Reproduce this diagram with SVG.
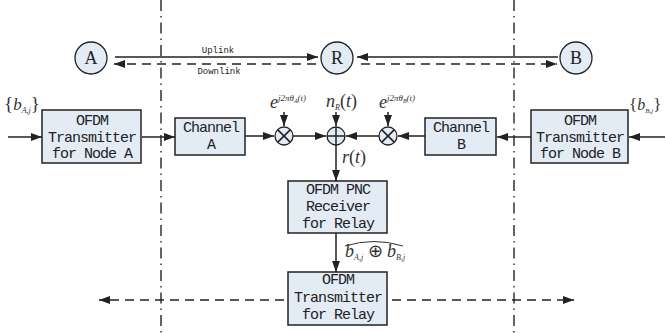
<svg xmlns="http://www.w3.org/2000/svg" width="665" height="333" viewBox="0 0 665 333">
<style>
.box{fill:#e3ebf5;stroke:#222;stroke-width:1.5}
.node{fill:#e3ebf5;stroke:#222;stroke-width:1.3}
.bt{font-family:"Liberation Mono",monospace;font-size:15px;letter-spacing:-1px;text-anchor:middle;fill:#222}
.sm{font-family:"Liberation Mono",monospace;font-size:9px;text-anchor:middle;fill:#222}
.nl{font-family:"Liberation Serif",serif;font-size:18px;text-anchor:middle;fill:#222}
.m{font-family:"Liberation Serif",serif;font-style:italic;fill:#333}
.ln{stroke:#222;stroke-width:1.5;fill:none}
.dl{stroke:#222;stroke-width:1.5;fill:none;stroke-dasharray:9,6}
.dd{stroke:#333;stroke-width:1.5;fill:none;stroke-dasharray:11,5,1.5,5}
</style>
<defs>
<marker id="ah" markerUnits="userSpaceOnUse" markerWidth="12" markerHeight="8" refX="11" refY="4" orient="auto">
<path d="M0,0 L11,4 L0,8 z" fill="#222"/>
</marker>
</defs>

<g id="boundaries">
<line class="dd" x1="161" y1="0" x2="161" y2="333"/>
<line class="dd" x1="514" y1="0" x2="514" y2="333"/>
</g>

<g id="connectors">
<line class="ln" x1="115" y1="57" x2="318" y2="57" marker-end="url(#ah)"/>
<line class="dl" x1="316" y1="64" x2="114" y2="64" marker-end="url(#ah)"/>
<line class="ln" x1="558" y1="57" x2="357" y2="57" marker-end="url(#ah)"/>
<line class="dl" x1="361" y1="64" x2="557" y2="64" marker-end="url(#ah)"/>
<line class="ln" x1="8" y1="137" x2="42" y2="137" marker-end="url(#ah)"/>
<line class="ln" x1="142" y1="137" x2="175" y2="137" marker-end="url(#ah)"/>
<line class="ln" x1="245" y1="136" x2="274" y2="136" marker-end="url(#ah)"/>
<line class="ln" x1="293" y1="136" x2="326" y2="136" marker-end="url(#ah)"/>
<line class="ln" x1="379" y1="136" x2="346" y2="136" marker-end="url(#ah)"/>
<line class="ln" x1="425" y1="136" x2="398" y2="136" marker-end="url(#ah)"/>
<line class="ln" x1="531" y1="137" x2="497" y2="137" marker-end="url(#ah)"/>
<line class="ln" x1="665" y1="137" x2="629" y2="137" marker-end="url(#ah)"/>
<line class="ln" x1="284" y1="112" x2="284" y2="126" marker-end="url(#ah)"/>
<line class="ln" x1="336" y1="112" x2="336" y2="126" marker-end="url(#ah)"/>
<line class="ln" x1="388" y1="112" x2="388" y2="126" marker-end="url(#ah)"/>
<line class="ln" x1="336" y1="145" x2="336" y2="181" marker-end="url(#ah)"/>
<line class="ln" x1="336" y1="233" x2="336" y2="272" marker-end="url(#ah)"/>
<line class="dl" x1="284" y1="300" x2="99" y2="300" marker-end="url(#ah)"/>
<line class="dl" x1="392" y1="300" x2="574" y2="300" marker-end="url(#ah)"/>
</g>

<text class="sm" x="218" y="53">Uplink</text>
<text class="sm" x="219" y="74">Downlink</text>

<g id="nodeA"><circle class="node" cx="91" cy="58" r="16"/><text class="nl" x="91" y="64">A</text></g>
<g id="nodeR"><circle class="node" cx="337" cy="58" r="16"/><text class="nl" x="337" y="64">R</text></g>
<g id="nodeB"><circle class="node" cx="576" cy="58" r="16"/><text class="nl" x="576" y="64">B</text></g>

<g id="txA">
<rect class="box" x="42" y="110" width="99" height="53"/>
<text class="bt" x="92" y="125">OFDM</text>
<text class="bt" x="92" y="142">Transmitter</text>
<text class="bt" x="92" y="158">for Node A</text>
</g>
<g id="chA">
<rect class="box" x="175" y="118" width="70" height="37"/>
<text class="bt" x="211" y="132">Channel</text>
<text class="bt" x="211" y="149">A</text>
</g>
<g id="mulA">
<circle class="node" cx="284" cy="136" r="9"/>
<path class="ln" d="M277.6,129.6 L290.4,142.4 M290.4,129.6 L277.6,142.4" stroke-width="1.3"/>
</g>
<g id="sum">
<circle class="node" cx="336" cy="136" r="9"/>
<path class="ln" d="M327,136 H345 M336,127 V145" stroke-width="1.3"/>
</g>
<g id="mulB">
<circle class="node" cx="388" cy="136" r="9"/>
<path class="ln" d="M381.6,129.6 L394.4,142.4 M394.4,129.6 L381.6,142.4" stroke-width="1.3"/>
</g>
<g id="chB">
<rect class="box" x="425" y="118" width="71" height="37"/>
<text class="bt" x="461" y="132">Channel</text>
<text class="bt" x="461" y="149">B</text>
</g>
<g id="txB">
<rect class="box" x="531" y="110" width="97" height="53"/>
<text class="bt" x="580" y="125">OFDM</text>
<text class="bt" x="580" y="142">Transmitter</text>
<text class="bt" x="580" y="158">for Node B</text>
</g>
<g id="rxRelay">
<rect class="box" x="288" y="181" width="99" height="52"/>
<text class="bt" x="338" y="194">OFDM PNC</text>
<text class="bt" x="338" y="211">Receiver</text>
<text class="bt" x="338" y="228">for Relay</text>
</g>
<g id="txRelay">
<rect class="box" x="288" y="272" width="99" height="53"/>
<text class="bt" x="338" y="284">OFDM</text>
<text class="bt" x="338" y="302">Transmitter</text>
<text class="bt" x="338" y="319">for Relay</text>
</g>

<g id="labels">
<text class="m" x="4" y="110" font-size="17"><tspan font-style="normal" font-size="19">{</tspan>b<tspan font-size="8" dy="3">A,j</tspan><tspan font-style="normal" font-size="19" dy="-3">}</tspan></text>
<text class="m" x="629" y="110" font-size="16"><tspan font-style="normal" font-size="17">{</tspan>b<tspan font-size="7" dy="3">B,j</tspan><tspan font-style="normal" font-size="17" dy="-3">}</tspan></text>
<text class="m" x="270" y="108" font-size="18">e<tspan font-size="9" dy="-7">j2πθ</tspan><tspan font-size="6" dy="2">A</tspan><tspan font-size="9" dy="-2">(t)</tspan></text>
<text class="m" x="326" y="107" font-size="18">n<tspan font-size="8" dy="3">R</tspan><tspan dy="-3" font-style="normal">(</tspan>t<tspan font-style="normal">)</tspan></text>
<text class="m" x="379" y="108" font-size="18">e<tspan font-size="9" dy="-7">j2πθ</tspan><tspan font-size="6" dy="2">B</tspan><tspan font-size="9" dy="-2">(t)</tspan></text>
<text class="m" x="342" y="163" font-size="18">r<tspan font-style="normal">(</tspan>t<tspan font-style="normal">)</tspan></text>
<text class="m" x="345" y="257" font-size="18">b<tspan font-size="8" dy="3">A,j</tspan><tspan font-style="normal" dy="-3"> ⊕ </tspan>b<tspan font-size="8" dy="3">B,j</tspan></text>
<path d="M345,246 Q374,237 403,246" fill="none" stroke="#333" stroke-width="1"/>
</g>
</svg>
